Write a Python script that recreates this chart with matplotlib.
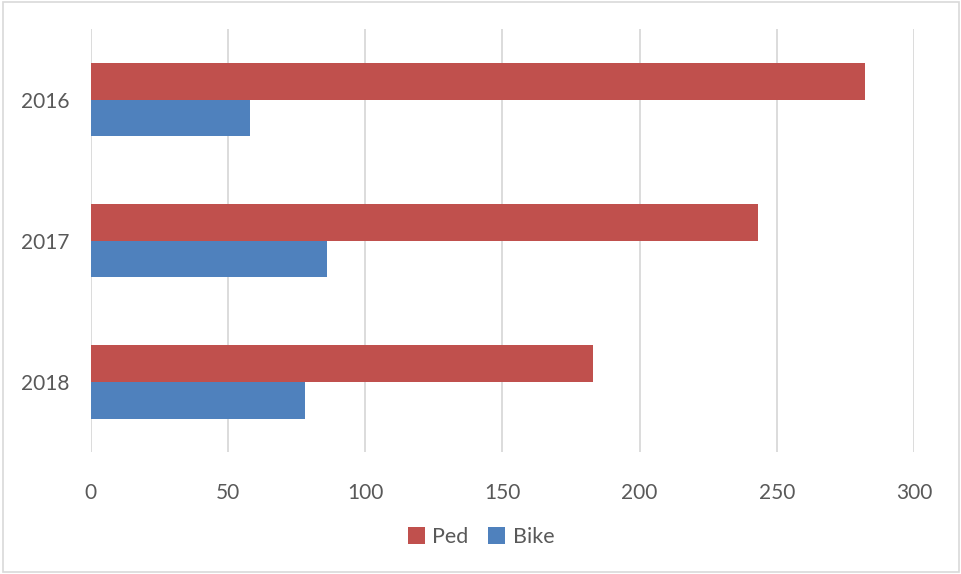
import numpy as np
import matplotlib.pyplot as plt
from matplotlib.patches import Rectangle

years = ['2016', '2017', '2018']
ped = [282, 243, 183]
bike = [58, 86, 78]

red = '#C0504D'
blue = '#4F81BD'
txt = '#595959'
grid = '#D9D9D9'

plt.rcParams['font.family'] = ['Lato', 'DejaVu Sans']

fig = plt.figure(figsize=(9.62, 5.74), dpi=100)
ax = fig.add_axes([0.0941, 0.2117, 0.856, 0.7378])

y = np.arange(len(years))
h = 0.26
ax.barh(y - h / 2, ped, height=h, color=red, label='Ped', zorder=3)
ax.barh(y + h / 2, bike, height=h, color=blue, label='Bike', zorder=3)

ax.set_xlim(0, 300)
ax.set_ylim(2.5, -0.5)
ax.set_xticks(range(0, 301, 50))
ax.set_yticks(y)
ax.set_yticklabels(years)
ax.xaxis.grid(True, color=grid, linewidth=1.3, zorder=0)
for s in ax.spines.values():
    s.set_visible(False)
ax.tick_params(axis='both', length=0, labelsize=15, labelcolor=txt)
ax.tick_params(axis='x', pad=22)
ax.tick_params(axis='y', pad=15)

fig.legend(loc='center', bbox_to_anchor=(0.5, 1 - 537 / 574), ncol=2, frameon=False,
           fontsize=15.5, labelcolor=txt, handlelength=0.8, handleheight=0.8,
           handletextpad=0.35, columnspacing=0.9)

fig.patches.append(Rectangle((0.003, 0.003), 0.994, 0.994, transform=fig.transFigure,
                             fill=False, edgecolor='#D9D9D9', linewidth=1.2))

fig.savefig('out.png', dpi=100)
